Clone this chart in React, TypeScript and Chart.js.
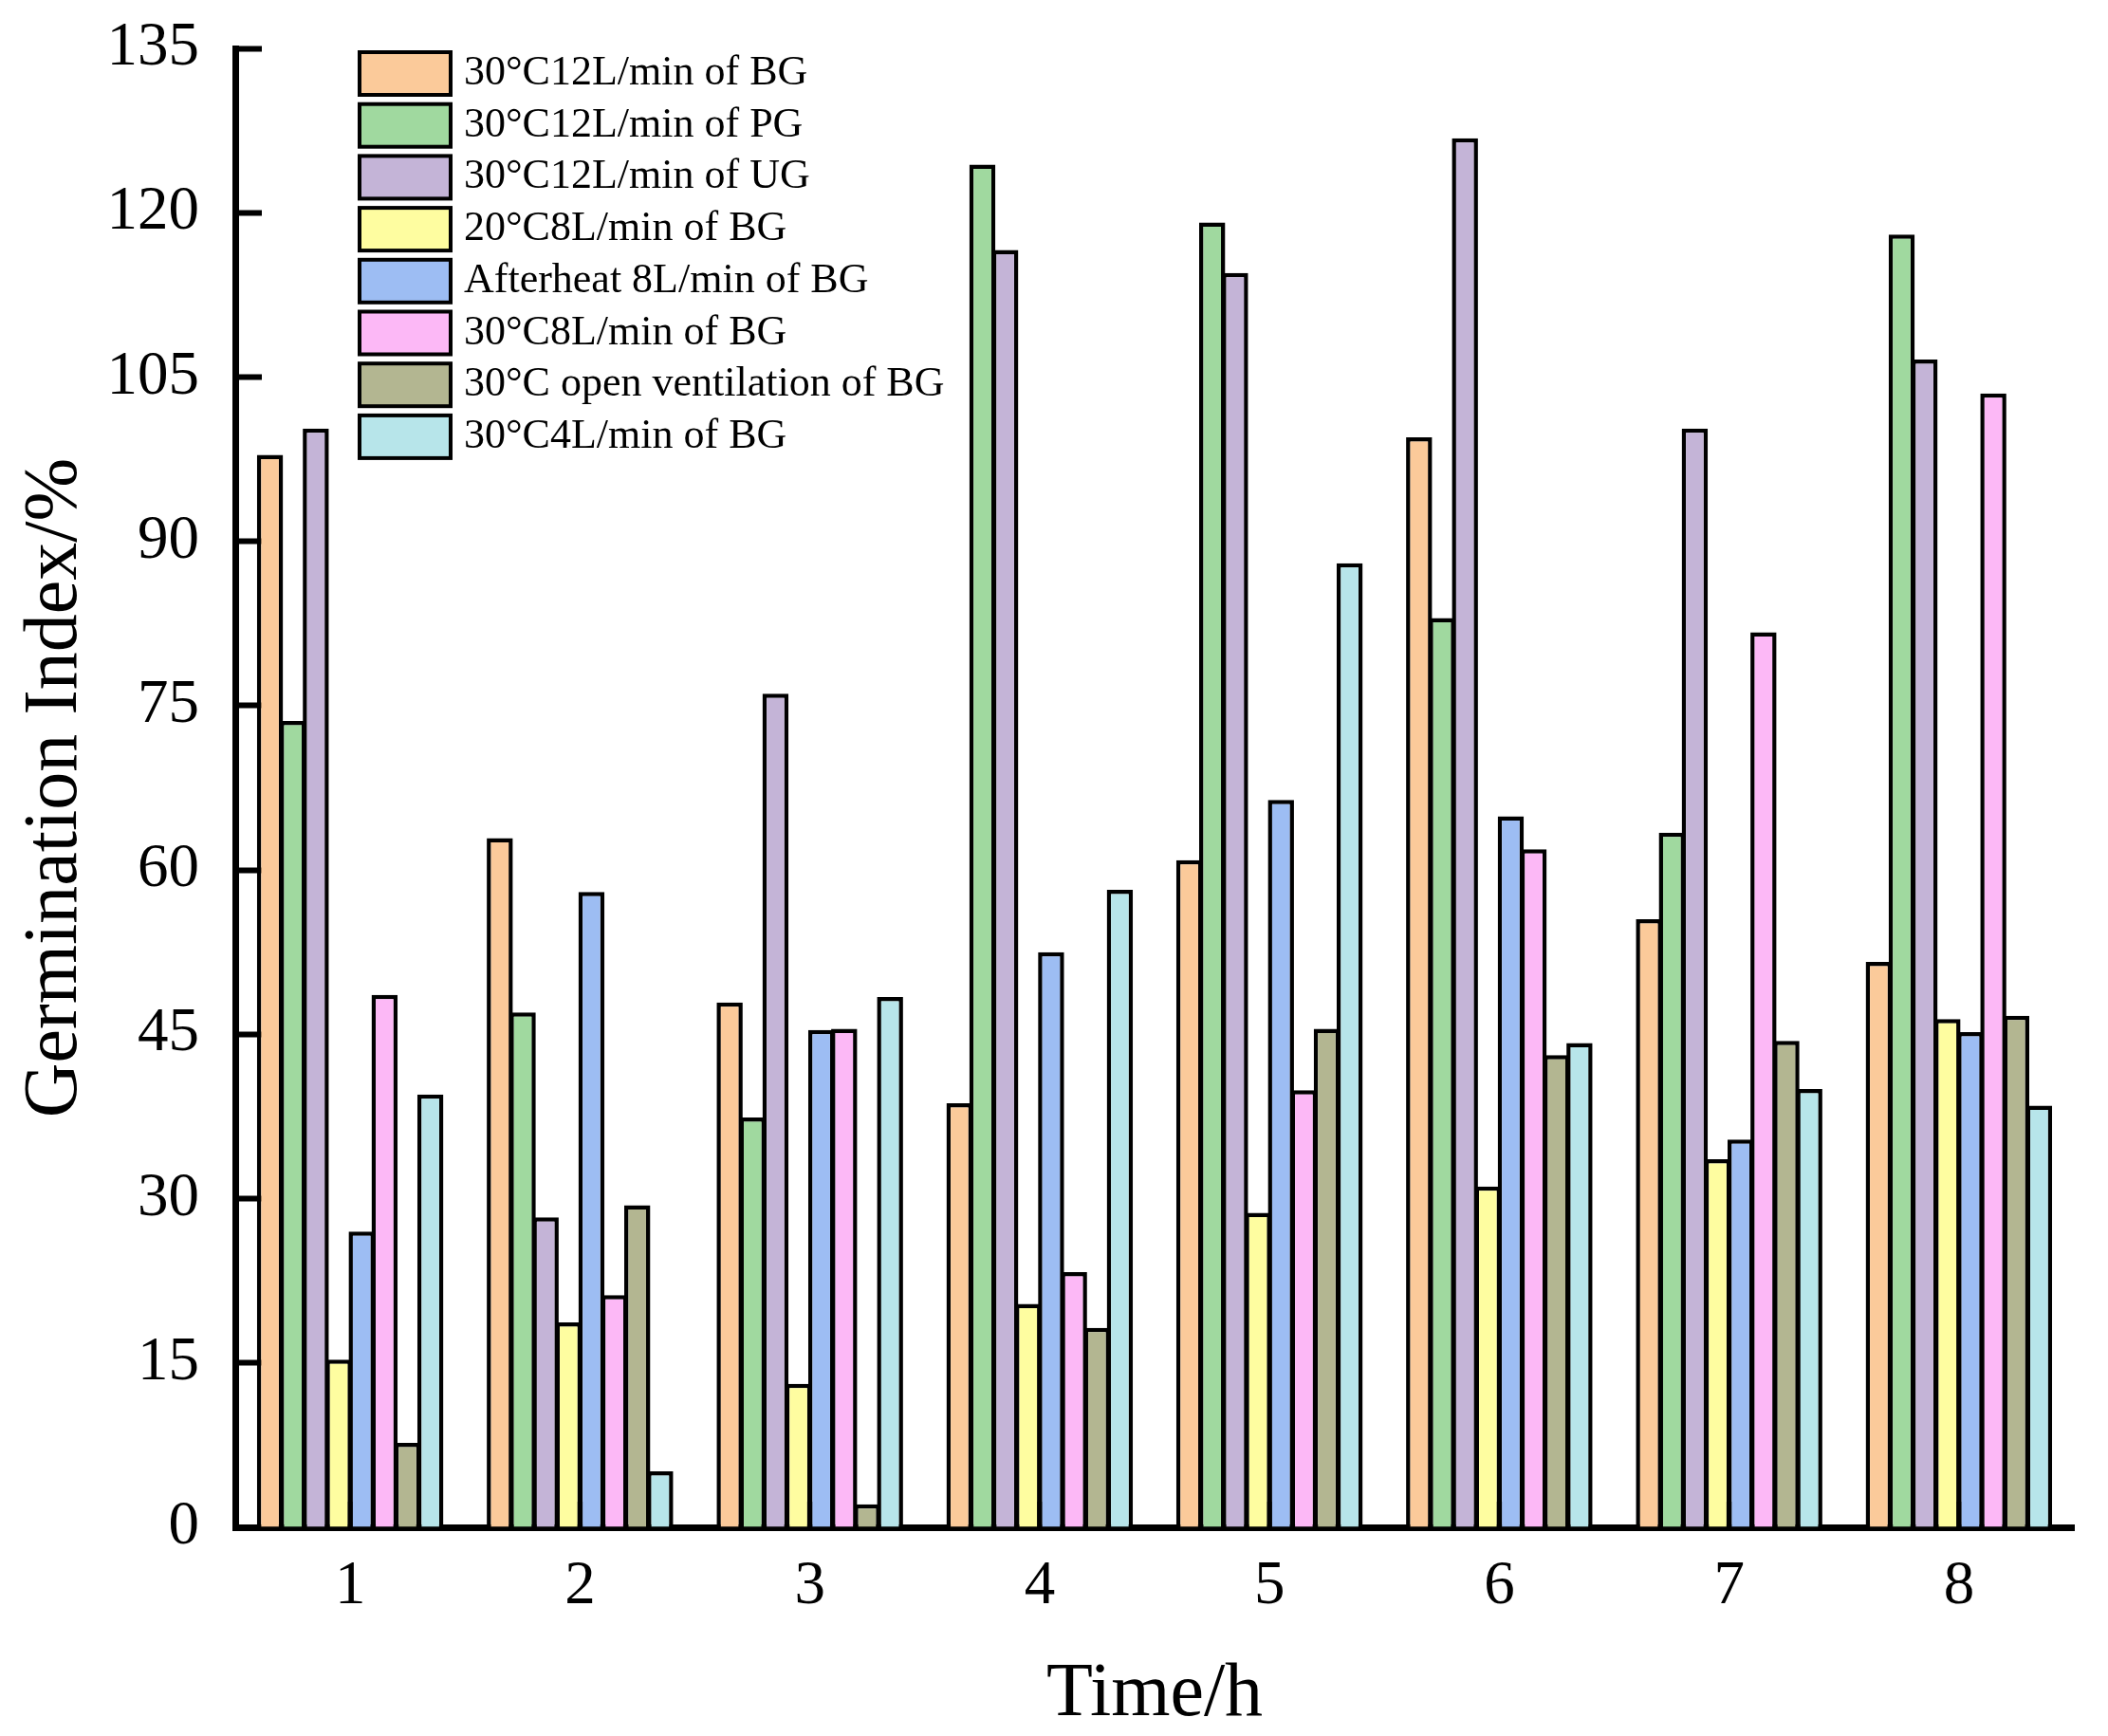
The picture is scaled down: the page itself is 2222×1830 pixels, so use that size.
import { useEffect, useRef } from 'react';
import { Chart, registerables } from 'chart.js';

Chart.register(...registerables);

const FONT = '"Liberation Serif", "Times New Roman", serif';

// hours on the x axis
const hours = ['1', '2', '3', '4', '5', '6', '7', '8'];

// germination index (%) for each treatment
const bg30c12 = [97.9, 62.9, 47.9, 38.7, 60.9, 99.5, 55.5, 51.6];
const pg30c12 = [73.6, 47.0, 37.4, 124.4, 119.1, 83.0, 63.4, 118.0];
const ug30c12 = [100.3, 28.3, 76.1, 116.6, 114.5, 126.8, 100.3, 106.6];
const bg20c8 = [15.3, 18.7, 13.1, 20.4, 28.7, 31.1, 33.6, 46.4];
const bgAfterheat8 = [27.0, 58.0, 45.4, 52.5, 66.4, 64.9, 35.4, 45.2];
const bg30c8 = [48.6, 21.2, 45.5, 23.3, 39.9, 61.9, 81.7, 103.5];
const bg30cOpen = [7.7, 29.4, 2.1, 18.2, 45.5, 43.1, 44.4, 46.7];
const bg30c4 = [39.5, 5.1, 48.4, 58.2, 88.0, 44.2, 40.0, 38.5];

const seriesLabels = [
  '30°C12L/min of BG',
  '30°C12L/min of PG',
  '30°C12L/min of UG',
  '20°C8L/min of BG',
  'Afterheat 8L/min of BG',
  '30°C8L/min of BG',
  '30°C open ventilation of BG',
  '30°C4L/min of BG',
];
const seriesValues = [bg30c12, pg30c12, ug30c12, bg20c8, bgAfterheat8, bg30c8, bg30cOpen, bg30c4];
const seriesColors = ['#FBCA9A', '#A0D99F', '#C4B4D7', '#FEFDA0', '#9DBDF3', '#FCB8F6', '#B3B691', '#B7E5EA'];

// y axis ticks: 0..135 step 15
const Y_MAX = 135;
const Y_STEP = 15;

// legend drawn inside the plot, top-left, with big outlined swatches
const insideLegend = {
  id: 'insideLegend',
  afterDraw(chart: any) {
    const { ctx, chartArea } = chart;
    const boxW = 100;
    const boxH = 49;
    const row = 54.7;
    const x = chartArea.left + 129;
    ctx.save();
    ctx.font = `44px ${FONT}`;
    ctx.textBaseline = 'middle';
    ctx.textAlign = 'left';
    chart.data.datasets.forEach((ds: any, i: number) => {
      const y = chartArea.top + 2 + i * row;
      ctx.fillStyle = '#000';
      ctx.fillRect(x, y, boxW, boxH);
      ctx.fillStyle = ds.backgroundColor;
      ctx.fillRect(x + 4, y + 4, boxW - 8, boxH - 8);
      ctx.fillStyle = '#000';
      ctx.fillText(ds.label, x + 112, y + boxH / 2);
    });
    ctx.restore();
  },
};

const GerminationChart = () => {
  const canvasRef = useRef<HTMLCanvasElement>(null);
  const chartRef = useRef<Chart | null>(null);

  useEffect(() => {
    document.body.style.margin = '0';
    if (!canvasRef.current) return;
    if (chartRef.current) chartRef.current.destroy();

    chartRef.current = new Chart(canvasRef.current, {
      type: 'bar',
      data: {
        labels: hours,
        datasets: seriesLabels.map((label, i) => ({
          label,
          data: seriesValues[i],
          backgroundColor: seriesColors[i],
          borderColor: '#000',
          borderWidth: 4.5,
          categoryPercentage: 0.7975,
          barPercentage: 1.14,
        })),
      },
      options: {
        responsive: false,
        animation: false,
        layout: { padding: { left: 0, top: 51, right: 36, bottom: 3 } },
        plugins: {
          legend: { display: false },
          tooltip: { enabled: false },
        },
        scales: {
          x: {
            offset: true,
            z: 1,
            afterFit: (scale: any) => {
              scale.height = 217;
              scale.paddingLeft = 0;
              scale.paddingRight = 0;
            },
            border: { display: true, color: '#000', width: 7 },
            grid: {
              offset: false,
              drawOnChartArea: false,
              drawTicks: true,
              tickLength: -27,
              tickWidth: 6,
              tickColor: '#000',
            },
            ticks: {
              color: '#000',
              padding: 51,
              maxRotation: 0,
              font: { family: FONT, size: 65, lineHeight: 1.2 },
            },
            title: {
              display: true,
              text: 'Time/h',
              color: '#000',
              padding: 0,
              font: { family: FONT, size: 80, lineHeight: 1 },
            },
          },
          y: {
            min: 0,
            max: Y_MAX,
            z: 1,
            afterFit: (scale: any) => {
              scale.width = 248;
              scale.paddingTop = 0;
              scale.paddingBottom = 0;
            },
            border: { display: true, color: '#000', width: 7 },
            grid: {
              drawOnChartArea: false,
              drawTicks: true,
              tickLength: -28,
              tickWidth: 6,
              tickColor: '#000',
            },
            ticks: {
              stepSize: Y_STEP,
              color: '#000',
              padding: 66,
              font: { family: FONT, size: 65, lineHeight: 1.2 },
            },
            title: {
              display: true,
              text: 'Germination Index/%',
              color: '#000',
              padding: { top: 19, bottom: 0 },
              font: { family: FONT, size: 80, lineHeight: 1 },
            },
          },
        },
      },
      plugins: [insideLegend],
    });

    return () => {
      if (chartRef.current) {
        chartRef.current.destroy();
        chartRef.current = null;
      }
    };
  }, []);

  return (
    <div style={{ width: 2222, height: 1830, background: '#fff' }}>
      <canvas ref={canvasRef} width={2222} height={1830} style={{ display: 'block' }} />
    </div>
  );
};

export default function App() {
  return <GerminationChart />;
}
